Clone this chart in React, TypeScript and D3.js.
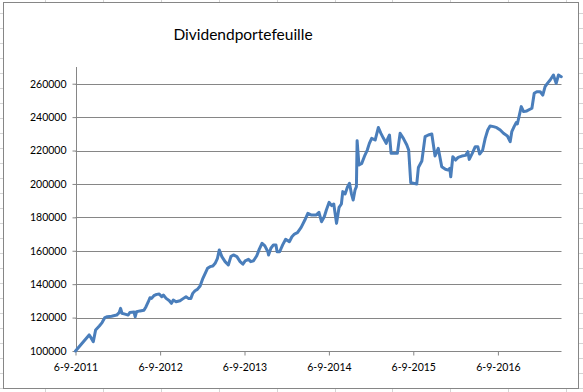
import React, { useEffect, useRef } from 'react'
import * as d3 from 'd3'

const title = 'Dividendportefeuille'

const dates = [
  '2011-09-06', '2011-11-04', '2011-11-12', '2011-11-22', '2011-12-02', '2011-12-18', '2011-12-30',
  '2012-01-11', '2012-01-21', '2012-02-09', '2012-03-02', '2012-03-13', '2012-03-19', '2012-03-25',
  '2012-04-07', '2012-04-21', '2012-04-28', '2012-05-16', '2012-05-21', '2012-05-27', '2012-06-11',
  '2012-06-28', '2012-07-07', '2012-07-17', '2012-07-24', '2012-07-31', '2012-08-10', '2012-08-22',
  '2012-09-02', '2012-09-13', '2012-09-20', '2012-10-02', '2012-10-16', '2012-10-25', '2012-11-02',
  '2012-11-14', '2012-12-01', '2012-12-16', '2012-12-27', '2013-01-06', '2013-01-17', '2013-01-25',
  '2013-02-04', '2013-02-14', '2013-02-26', '2013-03-10', '2013-03-20', '2013-03-30', '2013-04-10',
  '2013-04-22', '2013-05-02', '2013-05-12', '2013-05-20', '2013-05-31', '2013-06-14', '2013-06-28',
  '2013-07-09', '2013-07-20', '2013-08-04', '2013-08-18', '2013-08-30', '2013-09-09', '2013-09-23',
  '2013-10-03', '2013-10-15', '2013-10-29', '2013-11-09', '2013-11-21', '2013-12-03', '2013-12-16',
  '2013-12-19', '2013-12-29', '2014-01-09', '2014-01-20', '2014-01-25', '2014-02-05', '2014-02-18',
  '2014-03-03', '2014-03-19', '2014-03-30', '2014-04-10', '2014-04-23', '2014-05-09', '2014-05-25',
  '2014-06-07', '2014-06-23', '2014-07-12', '2014-07-25', '2014-08-05', '2014-08-17', '2014-08-26',
  '2014-09-07', '2014-09-18', '2014-09-27', '2014-10-09', '2014-10-20', '2014-10-30', '2014-11-05',
  '2014-11-15', '2014-11-26', '2014-12-04', '2014-12-12', '2014-12-20', '2014-12-28', '2015-01-03',
  '2015-01-06', '2015-01-14', '2015-01-26', '2015-02-09', '2015-02-19', '2015-02-28', '2015-03-10',
  '2015-03-25', '2015-04-08', '2015-04-19', '2015-04-30', '2015-05-12', '2015-05-19', '2015-05-26',
  '2015-06-02', '2015-06-29', '2015-07-11', '2015-07-25', '2015-08-09', '2015-08-17', '2015-08-26',
  '2015-09-06', '2015-09-21', '2015-09-28', '2015-10-13', '2015-10-27', '2015-11-10', '2015-11-25',
  '2015-12-09', '2015-12-23', '2016-01-07', '2016-01-23', '2016-02-04', '2016-02-11', '2016-02-15',
  '2016-02-24', '2016-03-07', '2016-03-18', '2016-04-03', '2016-04-19', '2016-04-29', '2016-05-05',
  '2016-05-18', '2016-05-31', '2016-06-11', '2016-06-19', '2016-07-02', '2016-07-13', '2016-07-24',
  '2016-08-03', '2016-08-18', '2016-09-01', '2016-09-16', '2016-09-30', '2016-10-17', '2016-10-29',
  '2016-11-05', '2016-11-15', '2016-11-24', '2016-11-29', '2016-12-08', '2016-12-16', '2016-12-26',
  '2017-01-09', '2017-01-31', '2017-02-10', '2017-02-21', '2017-03-08', '2017-03-19', '2017-03-29',
  '2017-04-08', '2017-04-20', '2017-05-04', '2017-05-16', '2017-05-26', '2017-06-07',
]

const values = [
  100000, 109600, 108000, 105600, 112600, 115000, 117000,
  120000, 120500, 120800, 121500, 123000, 125500, 122600,
  122100, 121500, 123100, 123300, 120500, 123500, 124000,
  124400, 126500, 129500, 131900, 131500, 133100, 133900,
  134100, 132500, 133500, 131500, 130100, 128500, 130500,
  129500, 130100, 131500, 132500, 131500, 131500, 134500,
  136100, 136900, 138900, 143500, 146500, 149500, 150500,
  150900, 152500, 155500, 160500, 156500, 153500, 151500,
  156500, 157500, 156500, 153500, 152000, 154000, 154900,
  153500, 154000, 157000, 161000, 164500, 162900, 159400,
  157500, 161500, 163500, 163500, 159400, 159400, 163500,
  166900, 165400, 168400, 170000, 170800, 174000, 178400,
  182400, 181400, 181400, 183000, 177400, 180400, 184400,
  189000, 187000, 188000, 176400, 186000, 188000, 195400,
  194000, 198400, 200400, 194400, 190400, 196400, 198400,
  225900, 211300, 212300, 217300, 220300, 224300, 227300,
  226300, 233800, 230300, 227300, 224300, 227300, 229300,
  218300, 218300, 230300, 227300, 223300, 220300, 200700,
  200400, 200000, 209800, 213700, 228300, 229300, 229900,
  216700, 221300, 210300, 208800, 208300, 209300, 204300,
  216300, 214300, 215900, 216700, 217100, 219300, 214700,
  218300, 222300, 222300, 217900, 220300, 227300, 232300,
  234700, 234300, 233700, 232300, 230300, 228700, 225300,
  231300, 234300, 236700, 235900, 241300, 246300, 243300,
  243700, 245300, 254300, 255200, 255200, 253200, 258200,
  260200, 262200, 265200, 260200, 265200, 264200,
]

const yTicks = [100000, 120000, 140000, 160000, 180000, 200000, 220000, 240000, 260000]
const xTicks = ['2011-09-06', '2012-09-06', '2013-09-06', '2014-09-06', '2015-09-06', '2016-09-06']
const xStart = '2011-09-06'
const xEnd = '2017-06-08'
const yMin = 100000
const yMax = 270000

function App() {
  const svgRef = useRef<SVGSVGElement | null>(null)

  useEffect(() => {
    const w = 583
    const h = 392
    const svg = d3.select(svgRef.current)
    svg.selectAll('*').remove()

    const parse = d3.timeParse('%Y-%m-%d')
    const fmt = d3.timeFormat('%-d-%-m-%Y')
    const font = 'Lato, "Open Sans", sans-serif'
    const axisColor = '#868686'

    // spreadsheet cells behind the chart
    const cells = svg.append('g').attr('stroke', '#d4d4d4').attr('shape-rendering', 'crispEdges')
    cells.selectAll('line.v').data(d3.range(45, w, 57.9)).join('line')
      .attr('x1', d => Math.round(d) + 0.5).attr('x2', d => Math.round(d) + 0.5)
      .attr('y1', 0).attr('y2', h)
    cells.selectAll('line.h').data(d3.range(13, h, 15)).join('line')
      .attr('y1', d => d + 0.5).attr('y2', d => d + 0.5)
      .attr('x1', 0).attr('x2', w)

    // chart area
    svg.append('rect')
      .attr('x', 3.5).attr('y', 2.5).attr('width', 575).attr('height', 386)
      .attr('fill', '#fff').attr('stroke', axisColor)

    svg.append('text')
      .attr('x', 243).attr('y', 40)
      .attr('text-anchor', 'middle')
      .attr('font-family', font).attr('font-size', 15.5)
      .attr('fill', '#000')
      .text(title)

    const margin = { left: 75.5, right: 561.5, top: 67, bottom: 351 }

    const xScale = d3.scaleTime()
      .domain([parse(xStart)!, parse(xEnd)!])
      .range([margin.left, margin.right])
    const yScale = d3.scaleLinear()
      .domain([yMin, yMax])
      .range([margin.bottom, margin.top])

    // gridlines
    svg.append('g')
      .selectAll('line').data(yTicks.slice(1)).join('line')
      .attr('x1', margin.left).attr('x2', margin.right)
      .attr('y1', d => Math.round(yScale(d)) + 0.5).attr('y2', d => Math.round(yScale(d)) + 0.5)
      .attr('stroke', axisColor)

    // y axis
    const yAxis = d3.axisLeft(yScale).tickValues(yTicks).tickSize(4).tickPadding(6)
      .tickFormat(d => String(d))
    const gy = svg.append('g')
      .attr('transform', `translate(${Math.round(margin.left) + 0.5},0)`)
      .call(yAxis)
    gy.select('.domain').attr('stroke', axisColor)
      .attr('d', `M0,${margin.top}V${margin.bottom}`)
    gy.selectAll('.tick line').attr('stroke', axisColor)
    gy.selectAll('.tick text').attr('font-family', font).attr('font-size', 10.5).attr('fill', '#000')

    // x axis
    const xAxis = d3.axisBottom(xScale)
      .tickValues(xTicks.map(d => parse(d)!))
      .tickSize(4).tickPadding(8)
      .tickFormat(d => fmt(d as Date))
    const gx = svg.append('g')
      .attr('transform', `translate(0,${Math.round(margin.bottom) + 0.5})`)
      .call(xAxis)
    gx.select('.domain').attr('stroke', axisColor)
      .attr('d', `M${margin.left},0H${margin.right}`)
    gx.selectAll('.tick line').attr('stroke', axisColor)
    gx.selectAll('.tick text').attr('font-family', font).attr('font-size', 10.5).attr('fill', '#000')

    // the series
    const points = dates.map((d, i) => ({ date: parse(d)!, value: values[i] }))
    const line = d3.line<{ date: Date; value: number }>()
      .x(d => xScale(d.date))
      .y(d => yScale(d.value))

    svg.append('path')
      .datum(points)
      .attr('d', line)
      .attr('fill', 'none')
      .attr('stroke', '#4a7ebb')
      .attr('stroke-width', 3)
      .attr('stroke-linejoin', 'round')
      .attr('stroke-linecap', 'round')
  }, [])

  return (
    <svg
      ref={svgRef}
      width={583}
      height={392}
      style={{ position: 'absolute', left: 0, top: 0, display: 'block', background: '#fff' }}
    />
  )
}

export default App
